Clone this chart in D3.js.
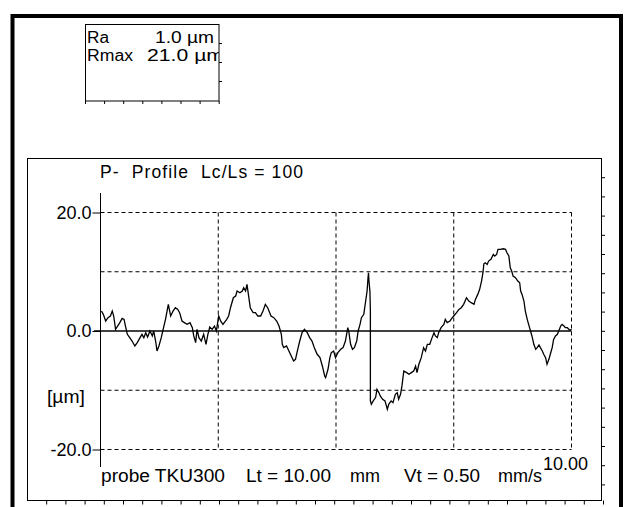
<!DOCTYPE html>
<html>
<head>
<meta charset="utf-8">
<script src="https://cdn.jsdelivr.net/npm/d3@7"></script>
<style>
  html, body { margin: 0; padding: 0; background: #fff; }
  svg { display: block; }
  text { font-family: "Liberation Sans", Arial, sans-serif; fill: #000; }
</style>
</head>
<body>
<script>
// ---------- DATA ----------
const profileX = [0.02,0.06,0.11,0.16,0.21,0.25,0.28,0.32,0.35,0.41,0.46,0.50,0.53,0.57,0.62,0.67,0.73,0.78,0.84,0.88,0.92,0.96,1.00,1.05,1.10,1.13,1.17,1.20,1.24,1.29,1.33,1.38,1.44,1.49,1.54,1.59,1.64,1.68,1.73,1.78,1.84,1.90,1.95,1.98,2.02,2.05,2.09,2.14,2.19,2.24,2.28,2.32,2.37,2.42,2.46,2.51,2.55,2.60,2.68,2.72,2.76,2.82,2.87,2.90,2.96,3.01,3.04,3.08,3.11,3.15,3.18,3.24,3.29,3.34,3.40,3.45,3.50,3.55,
3.62,3.68,3.74,3.79,3.84,3.86,3.89,3.95,4.00,4.05,4.10,4.14,4.18,4.23,4.28,4.33,4.39,4.44,4.49,4.54,4.60,4.66,4.71,4.76,4.78,4.83,4.87,4.90,4.95,4.99,5.04,5.10,5.15,5.20,5.25,5.27,5.31,5.35,5.39,5.44,5.47,5.51,5.54,5.59,5.63,5.66,5.68,5.69,5.70,5.72,5.73,5.73,5.75,5.79,5.84,5.87,5.91,5.94,5.99,6.04,6.09,6.12,6.17,6.21,6.26,6.30,6.33,6.37,6.40,6.44,6.50,6.55,6.60,6.65,6.69,6.72,6.76,6.81,
6.86,6.90,6.94,6.99,7.04,7.08,7.11,7.15,7.18,7.23,7.29,7.32,7.36,7.42,7.47,7.50,7.56,7.61,7.66,7.71,7.77,7.82,7.87,7.93,7.96,8.01,8.05,8.09,8.12,8.14,8.17,8.21,8.24,8.29,8.34,8.37,8.41,8.44,8.49,8.55,8.60,8.63,8.67,8.70,8.73,8.76,8.81,8.86,8.90,8.92,8.95,8.99,9.02,9.06,9.09,9.13,9.16,9.20,9.24,9.27,9.31,9.34,9.38,9.41,9.45,9.48,9.52,9.55,9.59,9.62,9.66,9.70,9.73,9.77,9.80,9.84,9.87,9.91,9.97,10.00];
const profileY = [3.37,2.81,1.69,2.25,2.53,3.37,2.53,0.28,0.67,1.41,2.14,1.97,0.84,-0.56,-1.12,-1.69,-2.53,-1.97,-1.12,-0.56,-1.12,-0.28,-1.01,0,-0.84,0,-1.69,-3.37,-2.53,-1.12,0.28,1.97,4.50,2.53,3.37,3.93,3.65,3.09,1.69,1.41,1.12,1.41,0.56,-0.84,-1.97,0.28,-1.12,-1.69,-0.56,-2.25,-0.56,0.67,0.28,0.84,0,2.53,1.69,1.12,1.97,2.53,3.93,5.62,5.90,6.75,6.46,6.75,7.31,6.75,7.87,5.62,3.93,3.09,3.09,2.53,2.53,3.37,4.50,3.93,
2.53,2.25,1.69,0.84,-0.56,-2.25,-2.81,-2.53,-3.37,-4.22,-5.06,-4.78,-3.37,-1.69,-0.28,0.28,-0.28,-1.12,-1.69,-2.81,-3.93,-4.50,-5.90,-7.59,-7.87,-6.46,-4.50,-3.65,-3.37,-4.50,-3.65,-3.09,-2.81,-1.69,0.56,0,-2.25,-3.09,-2.81,-1.69,0,1.12,2.25,2.81,5.06,6.75,8.99,9.84,8.43,6.75,3.37,-11.80,-12.37,-11.80,-11.24,-9.84,-10.40,-10.96,-11.52,-11.80,-13.21,-12.37,-11.80,-12.09,-10.68,-10.40,-11.52,-10.68,-9.27,-6.75,-7.03,-7.31,-7.03,-6.75,-5.90,-7.03,-5.62,-4.50,
-2.81,-3.37,-2.25,-2.25,-1.12,-0.28,-0.84,-1.12,-0.28,0.56,1.12,1.97,1.41,1.69,2.25,2.53,3.09,3.65,3.93,4.50,5.62,5.06,4.78,4.50,5.34,6.18,7.03,8.43,9.84,11.35,11.52,11.24,11.80,12.09,12.93,12.65,12.93,13.77,13.77,13.88,13.77,13.21,12.65,10.68,10.12,9.27,8.99,8.43,8.15,6.75,6.18,5.06,3.37,1.97,1.12,0,-0.84,-2.25,-3.09,-2.81,-2.36,-2.81,-3.37,-3.93,-4.50,-5.62,-4.78,-3.93,-2.81,-1.41,-0.84,-0.56,0,0.84,1.12,0.84,0.56,0.56,0.11,0.28];

const xDomain = [0, 10];          // mm
const yDomain = [-20, 20];        // µm
const yTickValues = [-20, 0, 20];
const yTickLabels = ["-20.0", "0.0", "20.0"];
const yGridValues = [-20, -10, 10, 20];
const xGridValues = [2.5, 5, 7.5, 10];
const xEndLabel = "10.00";
const yUnitLabel = "[µm]";
const titleText = "P-  Profile  Lc/Ls = 100";
const paramNames = ["Ra", "Rmax"];
const paramValues = ["1.0 µm", "21.0 µm"];
const footerParts = ["probe TKU300", "Lt = 10.00", "mm", "Vt = 0.50", "mm/s"];

// ---------- DRAW ----------
const W = 627, H = 507;
const FONT = '"Liberation Sans", Arial, sans-serif';
const svg = d3.select("body").append("svg").attr("width", W).attr("height", H);
svg.append("rect").attr("width", W).attr("height", H).attr("fill", "#fff");

const FS = "18px";

function txt(parent, s, xx, yy, fs, len) {
  const t = parent.append("text").attr("x", xx).attr("y", yy).style("font-size", fs).text(s);
  if (len) t.attr("textLength", len).attr("lengthAdjust", "spacingAndGlyphs");
  return t;
}

// outer thick frame
svg.append("rect").attr("x", 12.5).attr("y", 16).attr("width", 608.5).attr("height", 540)
  .attr("fill", "none").attr("stroke", "#000").attr("stroke-width", 4);

// parameter box
const pb = {x: 85.5, y: 24.5, w: 133.5, h: 76.5};
svg.append("defs").append("clipPath").attr("id", "pbclip")
  .append("rect").attr("x", pb.x).attr("y", pb.y).attr("width", pb.w).attr("height", pb.h);
svg.append("rect").attr("x", pb.x).attr("y", pb.y).attr("width", pb.w).attr("height", pb.h)
  .attr("fill", "none").attr("stroke", "#000").attr("stroke-width", 1);
d3.range(0, 8).forEach(k => {
  const tx = pb.x + k * 19.1;
  svg.append("line").attr("x1", tx).attr("x2", tx).attr("y1", pb.y + pb.h).attr("y2", pb.y + pb.h + 3)
    .attr("stroke", "#000");
});
[43.5, 62.5, 81.5].forEach(ty => {
  svg.append("line").attr("x1", pb.x + pb.w).attr("x2", pb.x + pb.w + 3).attr("y1", ty).attr("y2", ty)
    .attr("stroke", "#000");
});
const pg = svg.append("g").attr("clip-path", "url(#pbclip)");
const nameX = [87, 87], valX = [155, 147], rowY = [42.5, 60.5];
const nameW = [22, 46], valW = [59, 77];
paramNames.forEach((n, i) => {
  txt(pg, n, nameX[i], rowY[i], "16px", nameW[i]);
  txt(pg, paramValues[i], valX[i], rowY[i], "16px", valW[i]);
});

// inner frame
const fr = {x: 27.5, y: 158.5, w: 574, h: 342};
svg.append("rect").attr("x", fr.x).attr("y", fr.y).attr("width", fr.w).attr("height", fr.h)
  .attr("fill", "none").attr("stroke", "#000").attr("stroke-width", 1);
d3.range(1, 18).forEach(k => {
  const ty = fr.y + k * 19.2;
  svg.append("line").attr("x1", fr.x + fr.w).attr("x2", fr.x + fr.w + 3.5).attr("y1", ty).attr("y2", ty).attr("stroke", "#000");
});
d3.range(1, 31).forEach(k => {
  const tx = fr.x + k * 19.2;
  svg.append("line").attr("x1", tx).attr("x2", tx).attr("y1", fr.y + fr.h).attr("y2", fr.y + fr.h + 4).attr("stroke", "#000");
});

// title
svg.append("text").attr("x", 100).attr("y", 178).attr("xml:space", "preserve")
  .style("white-space", "pre").style("font-size", "17.5px")
  .attr("textLength", 203).attr("lengthAdjust", "spacing").text(titleText);

// scales
const x = d3.scaleLinear().domain(xDomain).range([100.5, 571.5]);
const y = d3.scaleLinear().domain(yDomain).range([449.5, 212.5]);

// grid
const grid = svg.append("g").attr("stroke", "#000").attr("stroke-width", 1).attr("stroke-dasharray", "4,3");
yGridValues.forEach(v => {
  grid.append("line").attr("x1", x(0)).attr("x2", x(10)).attr("y1", y(v)).attr("y2", y(v));
});
xGridValues.forEach(v => {
  grid.append("line").attr("x1", x(v)).attr("x2", x(v)).attr("y1", y(20)).attr("y2", y(-20));
});

// y axis
const yAxis = d3.axisLeft(y).tickValues(yTickValues)
  .tickFormat((d, i) => yTickLabels[i]).tickSize(8).tickPadding(1);
const ga = svg.append("g").attr("transform", `translate(${x(0)},0)`).call(yAxis);
ga.select(".domain").remove();
ga.selectAll("text").style("font-size", FS).style("font-family", FONT).attr("fill", "#000");
ga.selectAll("line").attr("stroke", "#000");
svg.append("line").attr("x1", x(0)).attr("x2", x(0)).attr("y1", 193).attr("y2", 467).attr("stroke", "#000");
// zero line
svg.append("line").attr("x1", 94).attr("x2", x(10)).attr("y1", y(0)).attr("y2", y(0)).attr("stroke", "#000").attr("stroke-width", 1.3);

// unit label
txt(svg, yUnitLabel, 47, 403, FS, 38);

// profile
const pts = profileX.map((v, i) => [v, profileY[i]]);
const line = d3.line().x(d => x(d[0])).y(d => y(d[1]));
svg.append("path").datum(pts).attr("d", line).attr("fill", "none")
  .attr("stroke", "#000").attr("stroke-width", 1.3).attr("stroke-linejoin", "miter");

// end label and footer
txt(svg, xEndLabel, 543, 470, FS, 45);
const footX = [101, 246, 350, 404, 498];
const footW = [124, 85, 30, 76, 44];
footerParts.forEach((t, i) => {
  txt(svg, t, footX[i], 482, FS, footW[i]);
});
</script>
</body>
</html>
